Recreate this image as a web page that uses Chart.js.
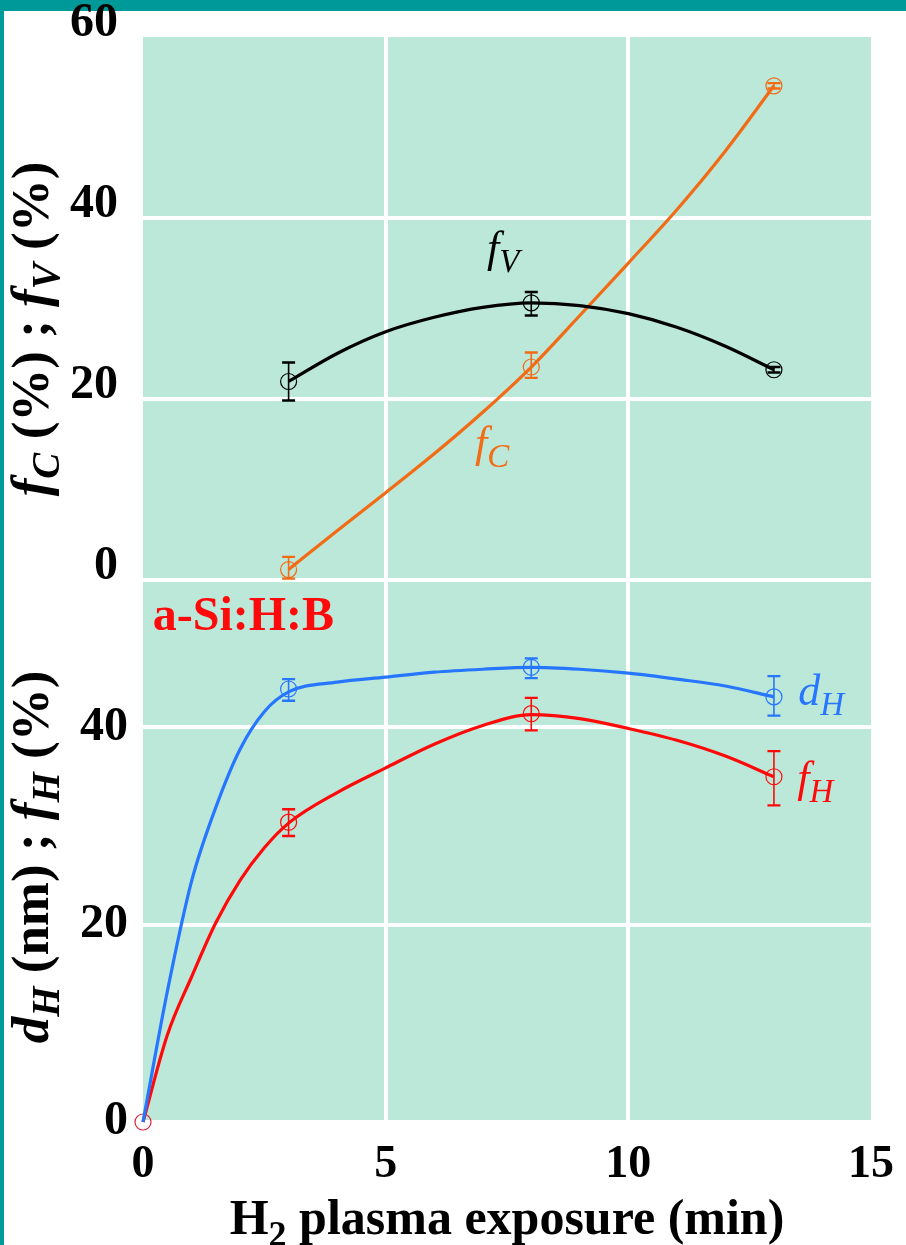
<!DOCTYPE html>
<html>
<head>
<meta charset="utf-8">
<script src="https://cdn.jsdelivr.net/npm/chart.js"></script>
<style>
  html, body { margin: 0; padding: 0; background: #ffffff; }
  canvas { display: block; }
</style>
</head>
<body>
<canvas id="chart" width="906" height="1245"></canvas>
<script>
// Measured points (H2 plasma exposure in min)
const timeMin = [3, 8, 13];

// top panel: f_C and f_V (%)
const fcValues = [1.1, 23.5, 54.6];
const fcPlus = [1.4, 1.6, 0.3];
const fcMinus = [1.0, 1.2, 0.3];
const fvValues = [21.9, 30.6, 23.2];
const fvPlus = [2.1, 1.2, 0.3];
const fvMinus = [2.1, 1.4, 0.3];

// bottom panel: d_H (nm) and f_H (%)
const dhValues = [43.9, 46.1, 43.1];
const dhPlus = [1.0, 0.9, 2.1];
const dhMinus = [1.2, 1.1, 1.9];
const fhValues = [30.4, 41.4, 35.0];
const fhPlus = [1.3, 1.6, 2.6];
const fhMinus = [1.4, 1.7, 2.9];

// guide curves
const fvCurveX = [3, 4, 5, 6, 7, 8, 9, 10, 11, 12, 13];
const fvCurveY = [21.9, 25.0, 27.4, 29.0, 30.1, 30.6, 30.3, 29.4, 27.9, 25.8, 23.2];
const fcCurveX = [3, 4, 5, 6, 7, 8, 9, 10, 11, 12, 13];
const fcCurveY = [1.1, 5.4, 9.6, 13.9, 18.5, 23.5, 29.2, 35.0, 40.9, 47.4, 54.6];
const dhCurveX = [0, 0.5, 1, 1.5, 2, 2.5, 3, 4, 5, 6, 7, 8, 9, 10, 11, 12, 13];
const dhCurveY = [0, 13.2, 24.4, 31.9, 37.8, 41.6, 43.6, 44.6, 45.1, 45.6, 45.9, 46.1, 45.9, 45.5, 44.9, 44.2, 43.1];
const fhCurveX = [0, 0.5, 1, 1.5, 2, 2.5, 3, 4, 5, 6, 7, 8, 9, 10, 11, 12, 13];
const fhCurveY = [0, 8.8, 14.7, 20.2, 24.5, 27.8, 30.3, 33.4, 35.9, 38.3, 40.2, 41.3, 40.9, 39.9, 38.7, 37.1, 35.0];

// origin point of the bottom panel
const originX = [0];
const originY = [0];

// axis ticks
const xTicks = [0, 5, 10, 15];
const topTicks = [0, 20, 40, 60];
const bottomTicks = [0, 20, 40];

const BLACK = '#000000';
const ORANGE = '#f26b15';
const BLUE = '#2676ff';
const RED = '#ff0a0a';
const SERIF = "'Liberation Serif', 'Times New Roman', serif";

const toPoints = (xs, ys) => xs.map((x, i) => ({ x: x, y: ys[i] }));

function curve(label, xs, ys, color, axis) {
  return {
    label: label,
    data: toPoints(xs, ys),
    yAxisID: axis,
    showLine: true,
    borderColor: color,
    borderWidth: 3.2,
    pointRadius: 0,
    cubicInterpolationMode: 'monotone',
    clip: false
  };
}

function markers(label, ys, plus, minus, color, axis) {
  return {
    label: label,
    data: toPoints(timeMin, ys),
    yAxisID: axis,
    showLine: false,
    pointStyle: 'circle',
    pointRadius: 8,
    pointBorderWidth: 1.2,
    borderColor: color,
    backgroundColor: 'rgba(0,0,0,0)',
    errPlus: plus,
    errMinus: minus,
    clip: false
  };
}

// background, frame and plot area fill
const backgroundPlugin = {
  id: 'background',
  beforeDraw(chart) {
    const { ctx, chartArea } = chart;
    ctx.save();
    ctx.fillStyle = '#ffffff';
    ctx.fillRect(0, 0, chart.width, chart.height);
    ctx.fillStyle = '#009999';
    ctx.fillRect(0, 0, chart.width, 11);
    ctx.fillRect(0, 0, 4, chart.height);
    ctx.fillStyle = '#bce8d9';
    ctx.fillRect(chartArea.left, chartArea.top, chartArea.right - chartArea.left, chartArea.bottom - chartArea.top);
    ctx.restore();
  }
};

// vertical error bars with caps
const errorBarPlugin = {
  id: 'errorBars',
  afterDatasetsDraw(chart) {
    const ctx = chart.ctx;
    const xScale = chart.scales.x;
    chart.data.datasets.forEach(ds => {
      if (!ds.errPlus) return;
      const yScale = chart.scales[ds.yAxisID];
      ctx.save();
      ctx.strokeStyle = ds.borderColor;
      ds.data.forEach((p, i) => {
        const px = xScale.getPixelForValue(p.x);
        const top = yScale.getPixelForValue(p.y + ds.errPlus[i]);
        const bot = yScale.getPixelForValue(p.y - ds.errMinus[i]);
        ctx.lineWidth = 1.6;
        ctx.beginPath();
        ctx.moveTo(px, top);
        ctx.lineTo(px, bot);
        ctx.stroke();
        ctx.lineWidth = 2.4;
        ctx.beginPath();
        ctx.moveTo(px - 6.5, top);
        ctx.lineTo(px + 6.5, top);
        ctx.moveTo(px - 6.5, bot);
        ctx.lineTo(px + 6.5, bot);
        ctx.stroke();
      });
      ctx.restore();
    });
  }
};

// draw a run of text pieces (font, dy) starting at x,y
function richWidth(ctx, parts) {
  let w = 0;
  parts.forEach(p => { ctx.font = p.font; w += ctx.measureText(p.t).width; });
  return w;
}
function drawRich(ctx, parts, x, y) {
  let cx = x;
  parts.forEach(p => {
    ctx.font = p.font;
    ctx.fillText(p.t, cx, y + (p.dy || 0));
    cx += ctx.measureText(p.t).width;
  });
}

const titlesPlugin = {
  id: 'titles',
  afterDraw(chart) {
    const { ctx, scales } = chart;
    const xs = scales.x, yT = scales.yT, yB = scales.yB;
    ctx.save();
    ctx.textBaseline = 'alphabetic';
    ctx.textAlign = 'left';

    const big = 'bold 53px ' + SERIF;
    const bigIt = 'bold italic 53px ' + SERIF;
    const subIt = 'bold italic 39px ' + SERIF;

    // y titles, rotated
    const yTitles = [
      { parts: [
        { t: 'f', font: bigIt }, { t: 'C', font: subIt, dy: 11 }, { t: ' (%)', font: big },
        { t: ' ; ', font: big },
        { t: 'f', font: bigIt }, { t: 'V', font: subIt, dy: 11 }, { t: ' (%)', font: big }
      ], cy: 329 },
      { parts: [
        { t: 'd', font: bigIt }, { t: 'H', font: subIt, dy: 11 }, { t: ' (nm)', font: big },
        { t: ' ; ', font: big },
        { t: 'f', font: bigIt }, { t: 'H', font: subIt, dy: 11 }, { t: ' (%)', font: big }
      ], cy: 857 }
    ];
    ctx.fillStyle = BLACK;
    yTitles.forEach(tt => {
      const w = richWidth(ctx, tt.parts);
      ctx.save();
      ctx.translate(48, tt.cy);
      ctx.rotate(-Math.PI / 2);
      drawRich(ctx, tt.parts, -w / 2, 0);
      ctx.restore();
    });

    // x title
    const xParts = [
      { t: 'H', font: 'bold 50px ' + SERIF }, { t: '2', font: 'bold 36px ' + SERIF, dy: 12 },
      { t: ' plasma exposure (min)', font: 'bold 50px ' + SERIF }
    ];
    const xw = richWidth(ctx, xParts);
    drawRich(ctx, xParts, (xs.left + xs.right) / 2 - xw / 2, 1234);

    // series labels
    const it = 'italic 44px ' + SERIF;
    const itSub = 'italic 33px ' + SERIF;
    const labels = [
      { parts: [{ t: 'f', font: it }, { t: 'V', font: itSub, dy: 10 }], x: 7.09, y: 35.1, s: yT, c: BLACK },
      { parts: [{ t: 'f', font: it }, { t: 'C', font: itSub, dy: 10 }], x: 6.84, y: 13.6, s: yT, c: ORANGE },
      { parts: [{ t: 'd', font: it }, { t: 'H', font: itSub, dy: 10 }], x: 13.5, y: 42.3, s: yB, c: BLUE },
      { parts: [{ t: 'f', font: it }, { t: 'H', font: itSub, dy: 10 }], x: 13.48, y: 33.5, s: yB, c: RED }
    ];
    labels.forEach(l => {
      ctx.fillStyle = l.c;
      drawRich(ctx, l.parts, xs.getPixelForValue(l.x), l.s.getPixelForValue(l.y));
    });

    // sample name
    ctx.fillStyle = RED;
    ctx.font = 'bold 48px ' + SERIF;
    ctx.fillText('a-Si:H:B', xs.getPixelForValue(0.2), yB.getPixelForValue(49.9));
    ctx.restore();
  }
};

const gridColor = (ends) => (c) => (ends.includes(c.tick.value) ? 'rgba(0,0,0,0)' : '#ffffff');

// keep tick labels from pushing the plot area around
function noOverhang(s) {
  s.paddingTop = 0;
  s.paddingBottom = 0;
  s.paddingLeft = 0;
  s.paddingRight = 0;
}

new Chart(document.getElementById('chart'), {
  type: 'scatter',
  data: {
    datasets: [
      curve('fV curve', fvCurveX, fvCurveY, BLACK, 'yT'),
      curve('fC curve', fcCurveX, fcCurveY, ORANGE, 'yT'),
      curve('dH curve', dhCurveX, dhCurveY, BLUE, 'yB'),
      curve('fH curve', fhCurveX, fhCurveY, RED, 'yB'),
      markers('fV', fvValues, fvPlus, fvMinus, BLACK, 'yT'),
      markers('fC', fcValues, fcPlus, fcMinus, ORANGE, 'yT'),
      markers('dH', dhValues, dhPlus, dhMinus, BLUE, 'yB'),
      markers('fH', fhValues, fhPlus, fhMinus, RED, 'yB'),
      {
        label: 'origin',
        data: toPoints(originX, originY),
        yAxisID: 'yB',
        pointRadius: 8,
        pointBorderWidth: 1.2,
        borderColor: '#e0203a',
        backgroundColor: 'rgba(0,0,0,0)',
        clip: false
      }
    ]
  },
  options: {
    responsive: false,
    animation: false,
    devicePixelRatio: 1,
    layout: { padding: { top: 37, right: 35, left: 0, bottom: 0 } },
    plugins: {
      legend: { display: false },
      tooltip: { enabled: false }
    },
    scales: {
      x: {
        type: 'linear',
        min: 0,
        max: 15,
        afterBuildTicks: (s) => { s.ticks = xTicks.map(v => ({ value: v })); },
        afterFit: (s) => { s.height = 123; noOverhang(s); },
        border: { display: false },
        grid: { color: gridColor([0, 15]), lineWidth: 4, drawTicks: false },
        ticks: { color: BLACK, padding: 16, font: { family: SERIF, size: 46, weight: 'bold' } }
      },
      // bottom panel listed first so it sits under the top one
      yB: {
        type: 'linear',
        position: 'left',
        stack: 'panels',
        stackWeight: 1,
        min: 0,
        max: 55,
        afterBuildTicks: (s) => { s.ticks = bottomTicks.map(v => ({ value: v })); },
        afterFit: (s) => { s.width = 143; noOverhang(s); },
        border: { display: false },
        grid: { color: gridColor([]), lineWidth: 4, drawTicks: false },
        ticks: { color: BLACK, padding: 15, font: { family: SERIF, size: 48, weight: 'bold' } }
      },
      yT: {
        type: 'linear',
        position: 'left',
        stack: 'panels',
        stackWeight: 1,
        min: 0,
        max: 60,
        afterBuildTicks: (s) => { s.ticks = topTicks.map(v => ({ value: v })); },
        afterFit: (s) => { s.width = 143; noOverhang(s); },
        border: { display: false },
        grid: { color: gridColor([60]), lineWidth: 4, drawTicks: false },
        ticks: { color: BLACK, padding: 25, labelOffset: -13, font: { family: SERIF, size: 48, weight: 'bold' } }
      }
    }
  },
  plugins: [backgroundPlugin, errorBarPlugin, titlesPlugin]
});
</script>
</body>
</html>
